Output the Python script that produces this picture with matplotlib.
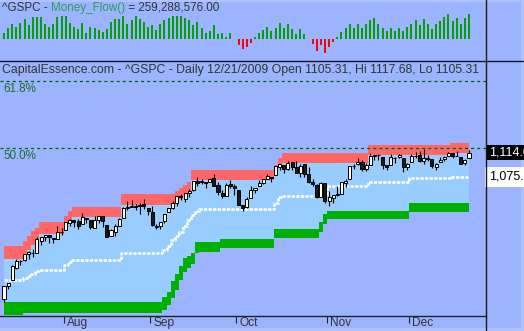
import numpy as np
import pandas as pd
import matplotlib
matplotlib.use("Agg")
import matplotlib.pyplot as plt
from matplotlib.lines import Line2D
from matplotlib.patches import Rectangle
import matplotlib.transforms as mtransforms

plt.rcParams['font.family'] = ['Liberation Sans', 'DejaVu Sans']
plt.rcParams['lines.scale_dashes'] = False

# ---------------- data ----------------
symbol = "^GSPC"
site = "CapitalEssence.com"
indicator = "Money_Flow()"
start_date, end_date = "2009-07-13", "2009-12-21"
holidays = ["2009-09-07", "2009-11-26"]
fib_high, fib_low = 1576.09, 666.79
fib_levels = [0.618, 0.5]
fib_labels = ["61.8%", "50.0%"]

opens = [879.57, 900.77, 910.15, 930.17, 940.56, 942.07, 951.97, 953.40, 954.07, 972.16, 978.63, 981.48, 977.66, 976.01, 986.80,
         990.22, 1001.41, 1005.41, 1004.06, 999.83, 1008.89, 1005.77, 994.00, 1005.86, 1012.23, 998.18, 980.62, 986.88, 996.41, 1009.06, 1026.59, 1026.63, 1027.35, 1027.81, 1031.62, 1025.21,
         1019.52, 996.07, 996.12, 1003.84, 1018.67, 1025.36, 1032.99, 1043.92, 1040.15, 1049.03, 1053.99, 1067.87, 1066.60, 1067.14, 1066.35, 1072.69, 1062.56, 1049.48, 1045.38, 1063.69, 1061.02,
         1054.91, 1029.71, 1026.87, 1042.02, 1053.65, 1060.03, 1065.28, 1071.63, 1074.96, 1078.68, 1090.36, 1094.67, 1088.22, 1098.64, 1090.36, 1080.96, 1095.62, 1080.36, 1067.54, 1061.51, 1043.69, 1065.41,
         1036.18, 1040.92, 1047.14, 1047.30, 1064.95, 1072.31, 1091.86, 1096.04, 1098.31, 1087.59, 1094.13, 1109.22, 1109.44, 1106.44, 1094.66, 1094.86, 1105.83, 1106.49, 1105.47, 1091.07,
         1098.89, 1109.03, 1110.59, 1100.43, 1105.52, 1103.04, 1091.07, 1098.69, 1103.96, 1107.84, 1114.11, 1108.61, 1106.36, 1097.86, 1105.31]
highs = [901.05, 905.84, 933.95, 943.96, 941.89, 951.62, 956.53, 959.83, 979.42, 979.79, 982.49, 982.35, 977.76, 996.68, 993.18,
         1003.61, 1007.12, 1006.64, 1008.00, 1018.00, 1010.12, 1005.77, 1012.78, 1013.14, 1012.60, 998.18, 991.20, 999.61, 1008.92, 1027.59, 1035.82, 1037.75, 1032.47, 1033.33, 1039.47, 1025.21,
         1028.45, 1000.34, 1003.43, 1016.48, 1026.07, 1036.34, 1044.14, 1048.18, 1049.74, 1056.04, 1068.76, 1074.77, 1071.52, 1067.28, 1073.81, 1080.15, 1066.29, 1053.47, 1065.13, 1069.62, 1063.40,
         1054.91, 1030.60, 1042.58, 1060.55, 1058.02, 1070.67, 1071.51, 1079.46, 1075.30, 1093.17, 1096.56, 1094.67, 1100.17, 1098.64, 1101.36, 1095.21, 1095.83, 1091.75, 1072.48, 1063.26, 1066.83, 1065.41,
         1052.18, 1046.36, 1061.00, 1066.65, 1071.48, 1093.19, 1096.42, 1105.37, 1101.97, 1097.79, 1113.69, 1110.52, 1111.10, 1106.44, 1094.66, 1112.38, 1107.56, 1111.18, 1105.47, 1097.24,
         1112.28, 1115.58, 1117.28, 1119.13, 1110.72, 1103.04, 1097.04, 1106.25, 1108.50, 1114.76, 1114.11, 1116.21, 1106.36, 1103.74, 1117.68]
lows = [875.32, 896.50, 910.15, 927.45, 934.65, 940.99, 943.22, 947.75, 953.27, 965.95, 972.29, 969.35, 968.65, 976.01, 982.85,
        990.22, 996.68, 994.31, 992.49, 999.83, 1000.99, 992.40, 993.36, 1000.82, 994.60, 978.51, 980.62, 980.62, 996.39, 1009.06, 1022.48, 1026.21, 1021.57, 1016.20, 1023.13, 1014.62,
        996.28, 991.97, 992.25, 1001.65, 1018.67, 1023.97, 1028.04, 1038.40, 1035.00, 1043.42, 1052.87, 1061.20, 1064.27, 1057.46, 1066.35, 1060.39, 1045.85, 1041.17, 1045.38, 1057.83, 1046.47,
        1029.45, 1019.95, 1025.92, 1042.02, 1050.10, 1060.03, 1063.00, 1071.63, 1066.71, 1078.68, 1086.41, 1081.53, 1086.48, 1086.16, 1080.77, 1074.31, 1075.49, 1065.23, 1060.62, 1042.19, 1043.69, 1033.38,
        1029.38, 1033.94, 1045.15, 1047.30, 1059.32, 1072.31, 1087.40, 1093.81, 1084.90, 1085.33, 1094.13, 1102.19, 1102.70, 1088.40, 1086.81, 1094.86, 1097.63, 1104.75, 1083.74, 1086.25,
        1098.89, 1105.29, 1098.74, 1096.52, 1100.83, 1088.61, 1085.89, 1098.69, 1101.34, 1107.84, 1105.35, 1107.96, 1095.88, 1093.88, 1105.31]
closes = [901.05, 905.84, 932.68, 940.74, 940.38, 951.13, 954.58, 954.07, 976.29, 979.26, 982.18, 979.62, 975.15, 986.75, 987.48,
          1002.63, 1005.65, 1002.72, 997.08, 1010.48, 1007.10, 994.35, 1005.81, 1012.73, 1004.09, 979.73, 989.67, 996.46, 1007.37, 1026.13, 1025.57, 1028.00, 1028.12, 1030.98, 1028.93, 1020.62,
          998.04, 994.75, 1003.24, 1016.40, 1025.39, 1033.37, 1044.14, 1042.73, 1049.34, 1052.63, 1068.76, 1065.49, 1068.30, 1064.66, 1071.66, 1060.87, 1050.78, 1044.38, 1062.98, 1060.61, 1057.08,
          1029.85, 1025.21, 1040.46, 1054.72, 1057.58, 1065.48, 1071.49, 1076.19, 1073.19, 1092.02, 1096.56, 1087.68, 1097.91, 1091.06, 1081.40, 1092.91, 1079.60, 1066.95, 1063.41, 1042.63, 1066.11, 1036.19,
          1042.88, 1045.41, 1046.50, 1066.63, 1069.30, 1093.08, 1093.01, 1098.51, 1087.24, 1093.48, 1109.30, 1110.32, 1109.80, 1094.90, 1091.38, 1106.24, 1105.65, 1110.63, 1091.49, 1095.63,
          1108.86, 1109.24, 1099.92, 1105.98, 1103.25, 1091.94, 1095.95, 1102.35, 1106.41, 1114.11, 1107.93, 1109.18, 1096.08, 1102.47, 1114.05]

# upper (red) band top / bottom, midline, lower (green) band top / bottom
red_top = [964.6]*5 + [972.6, 980.6, 988.6, 993.4] + [1003.0]*6 + [1012.6, 1020.6, 1027.0] + [1027.0]*11 + \
          [1047.0]*13 + [1052.6, 1057.4, 1062.2, 1067.0] + [1086.2]*20 + [1094.2, 1105.4] + [1113.9]*21 + \
          [1126.2]*20 + [1129.4]*5
red_bot = [943.8]*5 + [950.2, 958.2, 966.2, 974.2] + [983.8]*6 + [993.4, 1003.0, 1011.0] + [1011.0]*11 + \
          [1030.2]*13 + [1035.6, 1040.4, 1045.2, 1050.0] + [1070.2]*20 + [1078.2, 1089.4] + [1097.4]*21 + \
          [1110.2]*20 + [1113.4]*5
mid_line = [910.2]*5 + [913.4, 916.6, 920.0, 924.0] + [926.2]*6 + [934.0, 938.6, 942.2] + [942.2]*11 + \
           [953.4]*10 + [958.2, 964.6, 974.2, 980.6, 987.0, 996.6, 1006.2, 1014.2, 1020.6] + [1023.8]*18 + \
           [1034.0, 1043.0] + [1043.8]*11 + [1060.6]*10 + [1067.0]*10 + [1073.4]*10 + [1075.0]*5
grn_top = [875.0]*39 + [883.0, 891.8, 907.8, 919.8, 932.6, 945.4, 948.6, 953.4, 971.0] + [971.0]*5 + \
          [975.8]*13 + [991.8]*11 + [1003.0, 1015.8] + [1020.6]*20 + [1033.4]*15
grn_bot = [854.2]*5 + [857.4]*34 + [862.0, 870.2, 881.4, 894.2, 910.2, 923.0, 929.4, 935.8, 953.4] + [955.0]*5 + \
          [961.4]*13 + [977.4]*11 + [987.0, 999.8] + [1007.8]*20 + [1019.0]*15

# Money flow histogram (millions)
money_flow = [62, 114, 156, 124, 166, 207, 145, 228, 228, 228, 156, 124, 156, 228, 239, 239, 166, 124, 104, 166,
              62, 124, 114, 93, 73, 104, 176, 207, 207, 239, 156, 197, 239, 207, 176, 124, 145, 93, 156, 197,
              218, 239, 239, 239, 218, 197, 145, 176, 114, 62, 83, 145, 52, 62, 21, 62, 0, -59, -104, -76,
              -34, 28, 62,
              96, 124, 90, 117, 173, 117, 159, 107, 59, 107, 59, 0, -49, -117, -55, -138, -76, -28, 28, 76,
              117, 159, 117, 159, 117, 159, 200, 221, 159, 117, 86, 117, 86, 117, 86, 128, 159, 200, 145, 211,
              159, 107, 159, 190, 231, 262, 190, 221, 159, 221, 259.288576]

# ---------------- layout ----------------
W, H = 524, 331
BG = '#9CB4FF'
LIGHT = '#99CCFF'
RED = '#FF6666'
GREEN = '#00B000'
TXT = '#333333'

dates = pd.bdate_range(start_date, end_date)
dates = dates[~dates.isin(pd.to_datetime(holidays))]
n = len(dates)
idx = np.arange(n)
o = np.array(opens); h = np.array(highs); l = np.array(lows); c = np.array(closes)

fig = plt.figure(figsize=(W / 100, H / 100), dpi=100)
fig.patch.set_facecolor(BG)


def rect(x0, y0, x1, y1):
    return [x0 / W, 1 - y1 / H, (x1 - x0) / W, (y1 - y0) / H]


PX, X0 = 4.115, 4.0
xlim = (-X0 / PX, (486 - X0) / PX)

# light frame strips
fig.add_artist(Rectangle((0, 1 - 2 / H), 1, 2 / H, transform=fig.transFigure, fc='#ADC2FF', ec='none', zorder=0))
fig.add_artist(Rectangle((521 / W, 0), 3 / W, 1, transform=fig.transFigure, fc='#ADC2FF', ec='none', zorder=0))
fig.add_artist(Rectangle((0, 0), 1, 3 / H, transform=fig.transFigure, fc='#ADC2FF', ec='none', zorder=0))

# ---- main price panel ----
ax = fig.add_axes(rect(0, 61, 486, 316))
ax.set_facecolor('none')
ax.set_xlim(*xlim)
ax.set_ylim(852.6, 1260.6)
for s in ['top', 'right', 'left']:
    ax.spines[s].set_visible(False)
ax.spines['bottom'].set_color('#222222')
ax.spines['bottom'].set_linewidth(1.0)
ax.set_yticks([])

ax.fill_between(idx, grn_top, red_bot, step='mid', color=LIGHT, lw=0, zorder=1)
ax.fill_between(idx, red_bot, red_top, step='mid', color=RED, lw=0, zorder=2)
ax.fill_between(idx, grn_bot, grn_top, step='mid', color=GREEN, lw=0, zorder=2)
ax.step(idx, mid_line, where='mid', color='white', lw=1.9, dashes=(2.4, 0.9), zorder=3)

rng = fib_high - fib_low
for lev, lab in zip(fib_levels, fib_labels):
    yv = fib_low + lev * rng
    ax.axhline(yv, color='#006400', lw=0.9, dashes=(2.2, 2.2), zorder=4)
    tr = mtransforms.blended_transform_factory(ax.transAxes, ax.transData)
    tr = tr + mtransforms.ScaledTranslation(0, -2 / 100, fig.dpi_scale_trans)
    ax.text(3 / 486, yv, lab, transform=tr, ha='left', va='top', fontsize=8.4, color='#1F6B2A', zorder=5)

# candles
up = c >= o
ax.vlines(idx, l, h, color='black', lw=0.8, zorder=5)
ax.bar(idx[up], (c - o)[up], bottom=o[up], width=0.74, color='#FFFFF0', edgecolor='black', lw=0.7, zorder=6)
ax.bar(idx[~up], (o - c)[~up], bottom=c[~up], width=0.74, color='#1A1A1A', edgecolor='black', lw=0.7, zorder=6)

# month ticks
month_start = [i for i in range(1, n) if dates[i].month != dates[i - 1].month]
ax.set_xticks([m - 0.5 for m in month_start])
ax.set_xticklabels([dates[m].strftime('%b') for m in month_start])
ax.tick_params(axis='x', direction='out', length=5, width=0.8, color='#222222', pad=-4.5,
               labelsize=8.6, labelcolor=TXT)
for lbl in ax.get_xticklabels():
    lbl.set_ha('left')
    lbl.set_transform(lbl.get_transform() + mtransforms.ScaledTranslation(3 / 100, 0, fig.dpi_scale_trans))

# right labels
trr = mtransforms.blended_transform_factory(ax.transAxes, ax.transData)
ax.text(1 + 3 / 486, c[-1], f"{c[-1]:,.2f}", transform=trr, ha='left', va='center', fontsize=9,
        color='white', clip_on=False, bbox=dict(boxstyle='square,pad=0.15', fc='black', ec='none'))
ax.text(1 + 3 / 486, mid_line[-1], f"{mid_line[-1]:,.2f}", transform=trr, ha='left', va='center', fontsize=9,
        color='black', clip_on=False, bbox=dict(boxstyle='square,pad=0.3', fc='white', ec='none'))

title = (f"{site} - {symbol} - Daily {dates[-1].strftime('%m/%d/%Y')} Open {o[-1]:.2f}, "
         f"Hi {h[-1]:.2f}, Lo {l[-1]:.2f}")
fig.text(2 / W, 1 - 70 / H, title, ha='left', va='center', fontsize=8.85, color=TXT)

# ---- money flow panel ----
axt = fig.add_axes(rect(0, 2, 486, 60))
axt.set_facecolor('none')
axt.set_xlim(*xlim)
axt.set_ylim(-214.7, 386.8)
axt.axis('off')
mf = np.array(money_flow)
axt.vlines(idx[mf >= 0], 0, mf[mf >= 0], color='#00A000', lw=1.4)
axt.vlines(idx[mf < 0], 0, mf[mf < 0], color='#FF0000', lw=1.4)

# top title in pieces
parts = [(f"{symbol} - ", TXT), (indicator, '#2E9E5A'), (f" = {mf[-1] * 1e6:,.2f}", TXT)]
fig.canvas.draw()
r = fig.canvas.get_renderer()
xp = 2
for s, col in parts:
    t = fig.text(xp / W, 1 - 8 / H, s, ha='left', va='center', fontsize=8.4, color=col)
    xp += t.get_window_extent(r).width

# frame lines
fig.add_artist(Line2D([0, 1], [1 - 60.5 / H] * 2, color='#1A1A1A', lw=1.0))
fig.add_artist(Line2D([485.5 / W] * 2, [0, 1], color='#1A1A1A', lw=1.0))

fig.savefig('out.png', dpi=100, facecolor=BG)
